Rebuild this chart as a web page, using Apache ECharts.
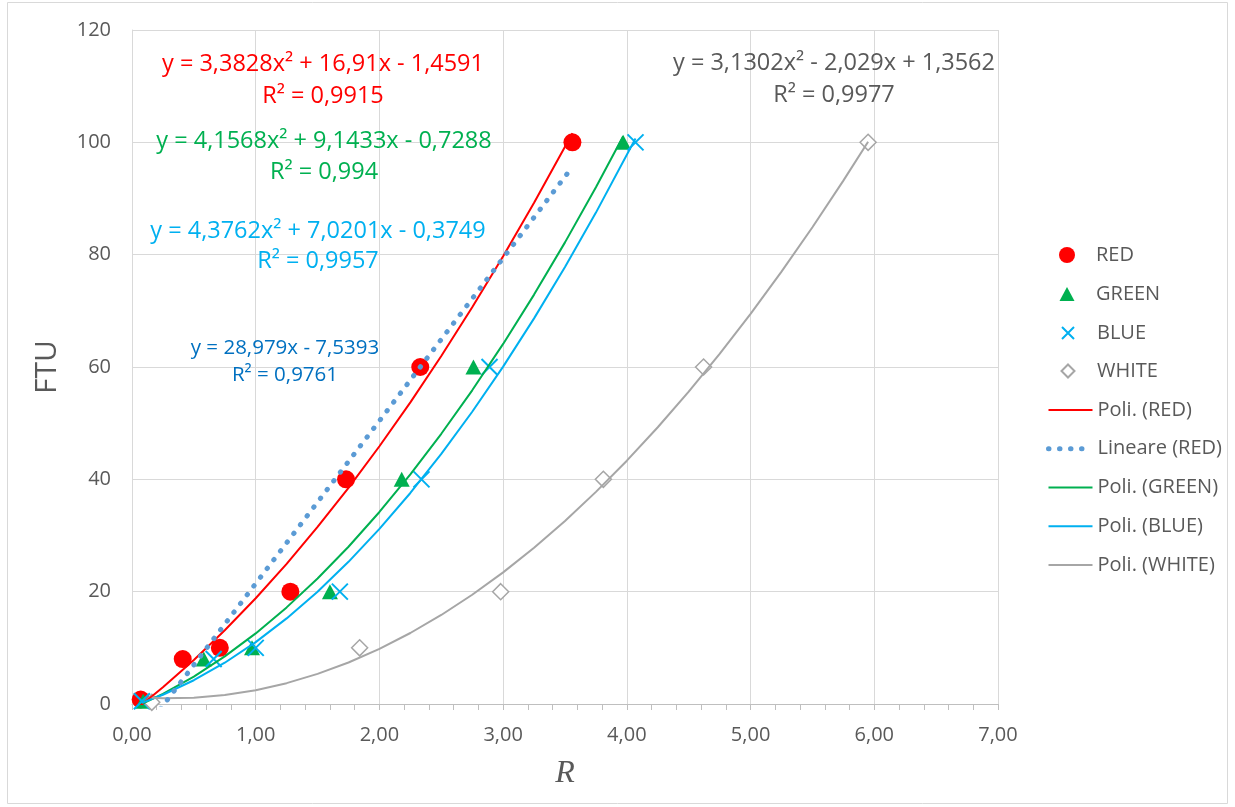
<!DOCTYPE html>
<html>
<head>
<meta charset="utf-8">
<script src="https://cdn.jsdelivr.net/npm/echarts@6/dist/echarts.min.js"></script>
<style>
html,body{margin:0;padding:0;background:#fff;}
#chart{width:1235px;height:807px;}
</style>
</head>
<body>
<div id="chart"></div>
<script>
// ---- axis settings ----
const xMin = 0, xMax = 7, xInterval = 1;
const yMin = 0, yMax = 120, yInterval = 20;

// ---- measured points ----
const redX   = [0.07, 0.41, 0.71, 1.28, 1.73, 2.33, 3.56];
const redY   = [0.8, 8, 10, 20, 40, 60, 100];
const greenX = [0.09, 0.58, 0.97, 1.60, 2.18, 2.76, 3.97];
const greenY = [0.5, 8, 10, 20, 40, 60, 100];
const blueX  = [0.08, 0.66, 1.00, 1.68, 2.34, 2.89, 4.07];
const blueY  = [0.5, 8, 10, 20, 40, 60, 100];
const whiteX = [0.16, 1.84, 2.98, 3.81, 4.62, 5.95];
const whiteY = [0.3, 10, 20, 40, 60, 100];

// ---- trendline points ----
const polyRedX = [0.07, 0.25, 0.5, 0.75, 1.0, 1.25, 1.5, 1.75, 2.0, 2.25, 2.5, 2.75, 3.0, 3.25, 3.56];
const polyRedY = [-0.26, 2.98, 7.84, 13.13, 18.83, 24.96, 31.52, 38.49, 45.89, 53.71, 61.96, 70.63, 79.72, 89.23, 101.61];
const linRedX  = [0.07, 3.56];
const linRedY  = [-5.51, 95.63];
const polyGreenX = [0.09, 0.25, 0.5, 0.75, 1.0, 1.25, 1.5, 1.75, 2.0, 2.25, 2.5, 2.75, 3.0, 3.25, 3.5, 3.75, 3.97];
const polyGreenY = [0.13, 1.82, 4.88, 8.47, 12.57, 17.20, 22.34, 28.00, 34.19, 40.89, 48.11, 55.85, 64.11, 72.89, 82.19, 92.01, 101.09];
const polyBlueX = [0.08, 0.25, 0.5, 0.75, 1.0, 1.25, 1.5, 1.75, 2.0, 2.25, 2.5, 2.75, 3.0, 3.25, 3.5, 3.75, 4.07];
const polyBlueY = [0.21, 1.65, 4.23, 7.35, 11.02, 15.24, 20.00, 25.31, 31.17, 37.57, 44.53, 52.03, 60.07, 68.66, 77.80, 87.49, 100.69];
const polyWhiteX = [0.16, 0.25, 0.5, 0.75, 1.0, 1.25, 1.5, 1.75, 2.0, 2.25, 2.5, 2.75, 3.0, 3.25, 3.5, 3.75, 4.0, 4.25, 4.5, 4.75, 5.0, 5.25, 5.5, 5.75, 5.95];
const polyWhiteY = [1.11, 1.04, 1.12, 1.60, 2.46, 3.71, 5.36, 7.39, 9.82, 12.64, 15.85, 19.45, 23.44, 27.82, 32.60, 37.77, 43.32, 49.27, 55.61, 62.34, 69.47, 76.98, 84.89, 93.18, 100.10];

// ---- texts ----
const seriesNames = ['RED', 'GREEN', 'BLUE', 'WHITE'];
const trendNames = ['Poli. (RED)', 'Lineare (RED)', 'Poli. (GREEN)', 'Poli. (BLUE)', 'Poli. (WHITE)'];
const eqRed   = ['y = 3,3828x² + 16,91x - 1,4591', 'R² = 0,9915'];
const eqGreen = ['y = 4,1568x² + 9,1433x - 0,7288', 'R² = 0,994'];
const eqBlue  = ['y = 4,3762x² + 7,0201x - 0,3749', 'R² = 0,9957'];
const eqLin   = ['y = 28,979x - 7,5393', 'R² = 0,9761'];
const eqWhite = ['y = 3,1302x² - 2,029x + 1,3562', 'R² = 0,9977'];

const zip = (xs, ys) => xs.map((x, i) => [x, ys[i]]);
const FONT = 'Open Sans';
const TXT = '#595959';

const chart = echarts.init(document.getElementById('chart'), null, {renderer: 'canvas'});

function eqText(lines, cx, ys, color, size) {
  return lines.map((t, i) => ({
    type: 'text', x: cx, y: ys[i], z: 100,
    style: {text: t, fill: color, font: size + 'px "' + FONT + '"', textAlign: 'center', textVerticalAlign: 'middle'}
  }));
}

const LEG_ICON_CX = 1062, LEG_TEXT_X = 1091;
const scatterLegendCfg = [
  {name: seriesNames[0], w: 16, h: 16, cy: 254},
  {name: seriesNames[1], w: 15, h: 14, cy: 293},
  {name: seriesNames[2], w: 12, h: 12, cy: 332},
  {name: seriesNames[3], w: 13, h: 13, cy: 370}
];
const legends = scatterLegendCfg.map(c => ({
  data: [c.name], orient: 'vertical', selectedMode: false,
  left: LEG_ICON_CX - c.w / 2, top: c.cy - 14,
  itemWidth: c.w, itemHeight: c.h,
  itemStyle: {opacity: 1},
  textStyle: {fontFamily: FONT, fontSize: 20, color: TXT, lineHeight: 20,
    padding: [0, 0, 0, LEG_TEXT_X - (LEG_ICON_CX - c.w / 2 + c.w + 5)]}
}));
legends.push({
  data: trendNames, orient: 'vertical', selectedMode: false,
  left: 1041, top: 395, itemWidth: 44, itemHeight: 20, itemGap: 18.75,
  itemStyle: {opacity: 0},
  lineStyle: {width: 'inherit'},
  textStyle: {fontFamily: FONT, fontSize: 20, color: TXT, lineHeight: 20}
});

const option = {
  animation: false,
  backgroundColor: '#fff',
  legend: legends,
  grid: {left: 132, right: 237, top: 30, bottom: 103, containLabel: false},
  xAxis: {
    type: 'value', min: xMin, max: xMax, interval: xInterval,
    name: 'R', nameLocation: 'middle', nameGap: 54,
    nameTextStyle: {fontFamily: 'Liberation Serif', fontStyle: 'italic', fontSize: 32, color: TXT},
    axisLine: {show: true, onZero: false, lineStyle: {color: '#bfbfbf', width: 1}},
    axisTick: {show: true, inside: false, length: 6, lineStyle: {color: '#bfbfbf'}},
    minorTick: {show: true, splitNumber: 5, length: 6, lineStyle: {color: '#bfbfbf'}},
    splitLine: {show: true, lineStyle: {color: '#d9d9d9', width: 1}},
    axisLabel: {margin: 21, fontFamily: FONT, fontSize: 20, color: TXT, lineHeight: 20,
      formatter: v => v.toFixed(2).replace('.', ',')}
  },
  yAxis: {
    type: 'value', min: yMin, max: yMax, interval: yInterval,
    name: 'FTU', nameLocation: 'middle', nameGap: 70,
    nameTextStyle: {fontFamily: FONT, fontSize: 30, color: TXT},
    axisLine: {show: true, lineStyle: {color: '#d9d9d9', width: 1}},
    axisTick: {show: false},
    splitLine: {show: true, lineStyle: {color: '#d9d9d9', width: 1}},
    axisLabel: {margin: 21, fontFamily: FONT, fontSize: 20, color: TXT}
  },
  series: [
    {name: seriesNames[0], type: 'scatter', data: zip(redX, redY), symbol: 'circle', symbolSize: 18,
      itemStyle: {color: '#ff0000', opacity: 1}, z: 2},
    {name: seriesNames[1], type: 'scatter', data: zip(greenX, greenY), symbol: 'triangle', symbolSize: [16, 15],
      itemStyle: {color: '#00b050', opacity: 1}, z: 2},
    {name: seriesNames[2], type: 'scatter', data: zip(blueX, blueY), symbol: 'path://M0,0L10,10M10,0L0,10', symbolSize: 16,
      symbolKeepAspect: true, itemStyle: {color: 'rgba(0,0,0,0)', borderColor: '#00b0f0', borderWidth: 2, opacity: 1}, z: 2},
    {name: seriesNames[3], type: 'scatter', data: zip(whiteX, whiteY), symbol: 'diamond', symbolSize: 16,
      itemStyle: {color: '#ffffff', borderColor: '#a6a6a6', borderWidth: 1.5, opacity: 1}, z: 2},
    {name: trendNames[0], type: 'line', data: zip(polyRedX, polyRedY), symbol: 'none', z: 3,
      lineStyle: {color: '#ff0000', width: 2}, itemStyle: {color: '#ff0000'}},
    {name: trendNames[1], type: 'line', data: zip(linRedX, linRedY), symbol: 'none', z: 4,
      lineStyle: {color: '#5b9bd5', width: 5, type: [0.5, 10.5], cap: 'round'}, itemStyle: {color: '#5b9bd5'}},
    {name: trendNames[2], type: 'line', data: zip(polyGreenX, polyGreenY), symbol: 'none', z: 3,
      lineStyle: {color: '#00b050', width: 2}, itemStyle: {color: '#00b050'}},
    {name: trendNames[3], type: 'line', data: zip(polyBlueX, polyBlueY), symbol: 'none', z: 3,
      lineStyle: {color: '#00b0f0', width: 2}, itemStyle: {color: '#00b0f0'}},
    {name: trendNames[4], type: 'line', data: zip(polyWhiteX, polyWhiteY), symbol: 'none', z: 3,
      lineStyle: {color: '#a6a6a6', width: 2}, itemStyle: {color: '#a6a6a6'}}
  ],
  graphic: [
    {type: 'rect', z: -1, shape: {x: 7.5, y: 2.5, width: 1220, height: 801}, style: {fill: 'none', stroke: '#d9d9d9', lineWidth: 1}},
    ...eqText(eqRed, 323, [64, 96], '#ff0000', 23.5),
    ...eqText(eqGreen, 324, [141, 172], '#00b050', 23.5),
    ...eqText(eqBlue, 318, [231, 261], '#00b0f0', 23.5),
    ...eqText(eqLin, 285, [348, 375], '#0070c0', 20.5),
    ...eqText(eqWhite, 834, [63, 95], TXT, 23.5)
  ]
};
chart.setOption(option);
</script>
</body>
</html>
